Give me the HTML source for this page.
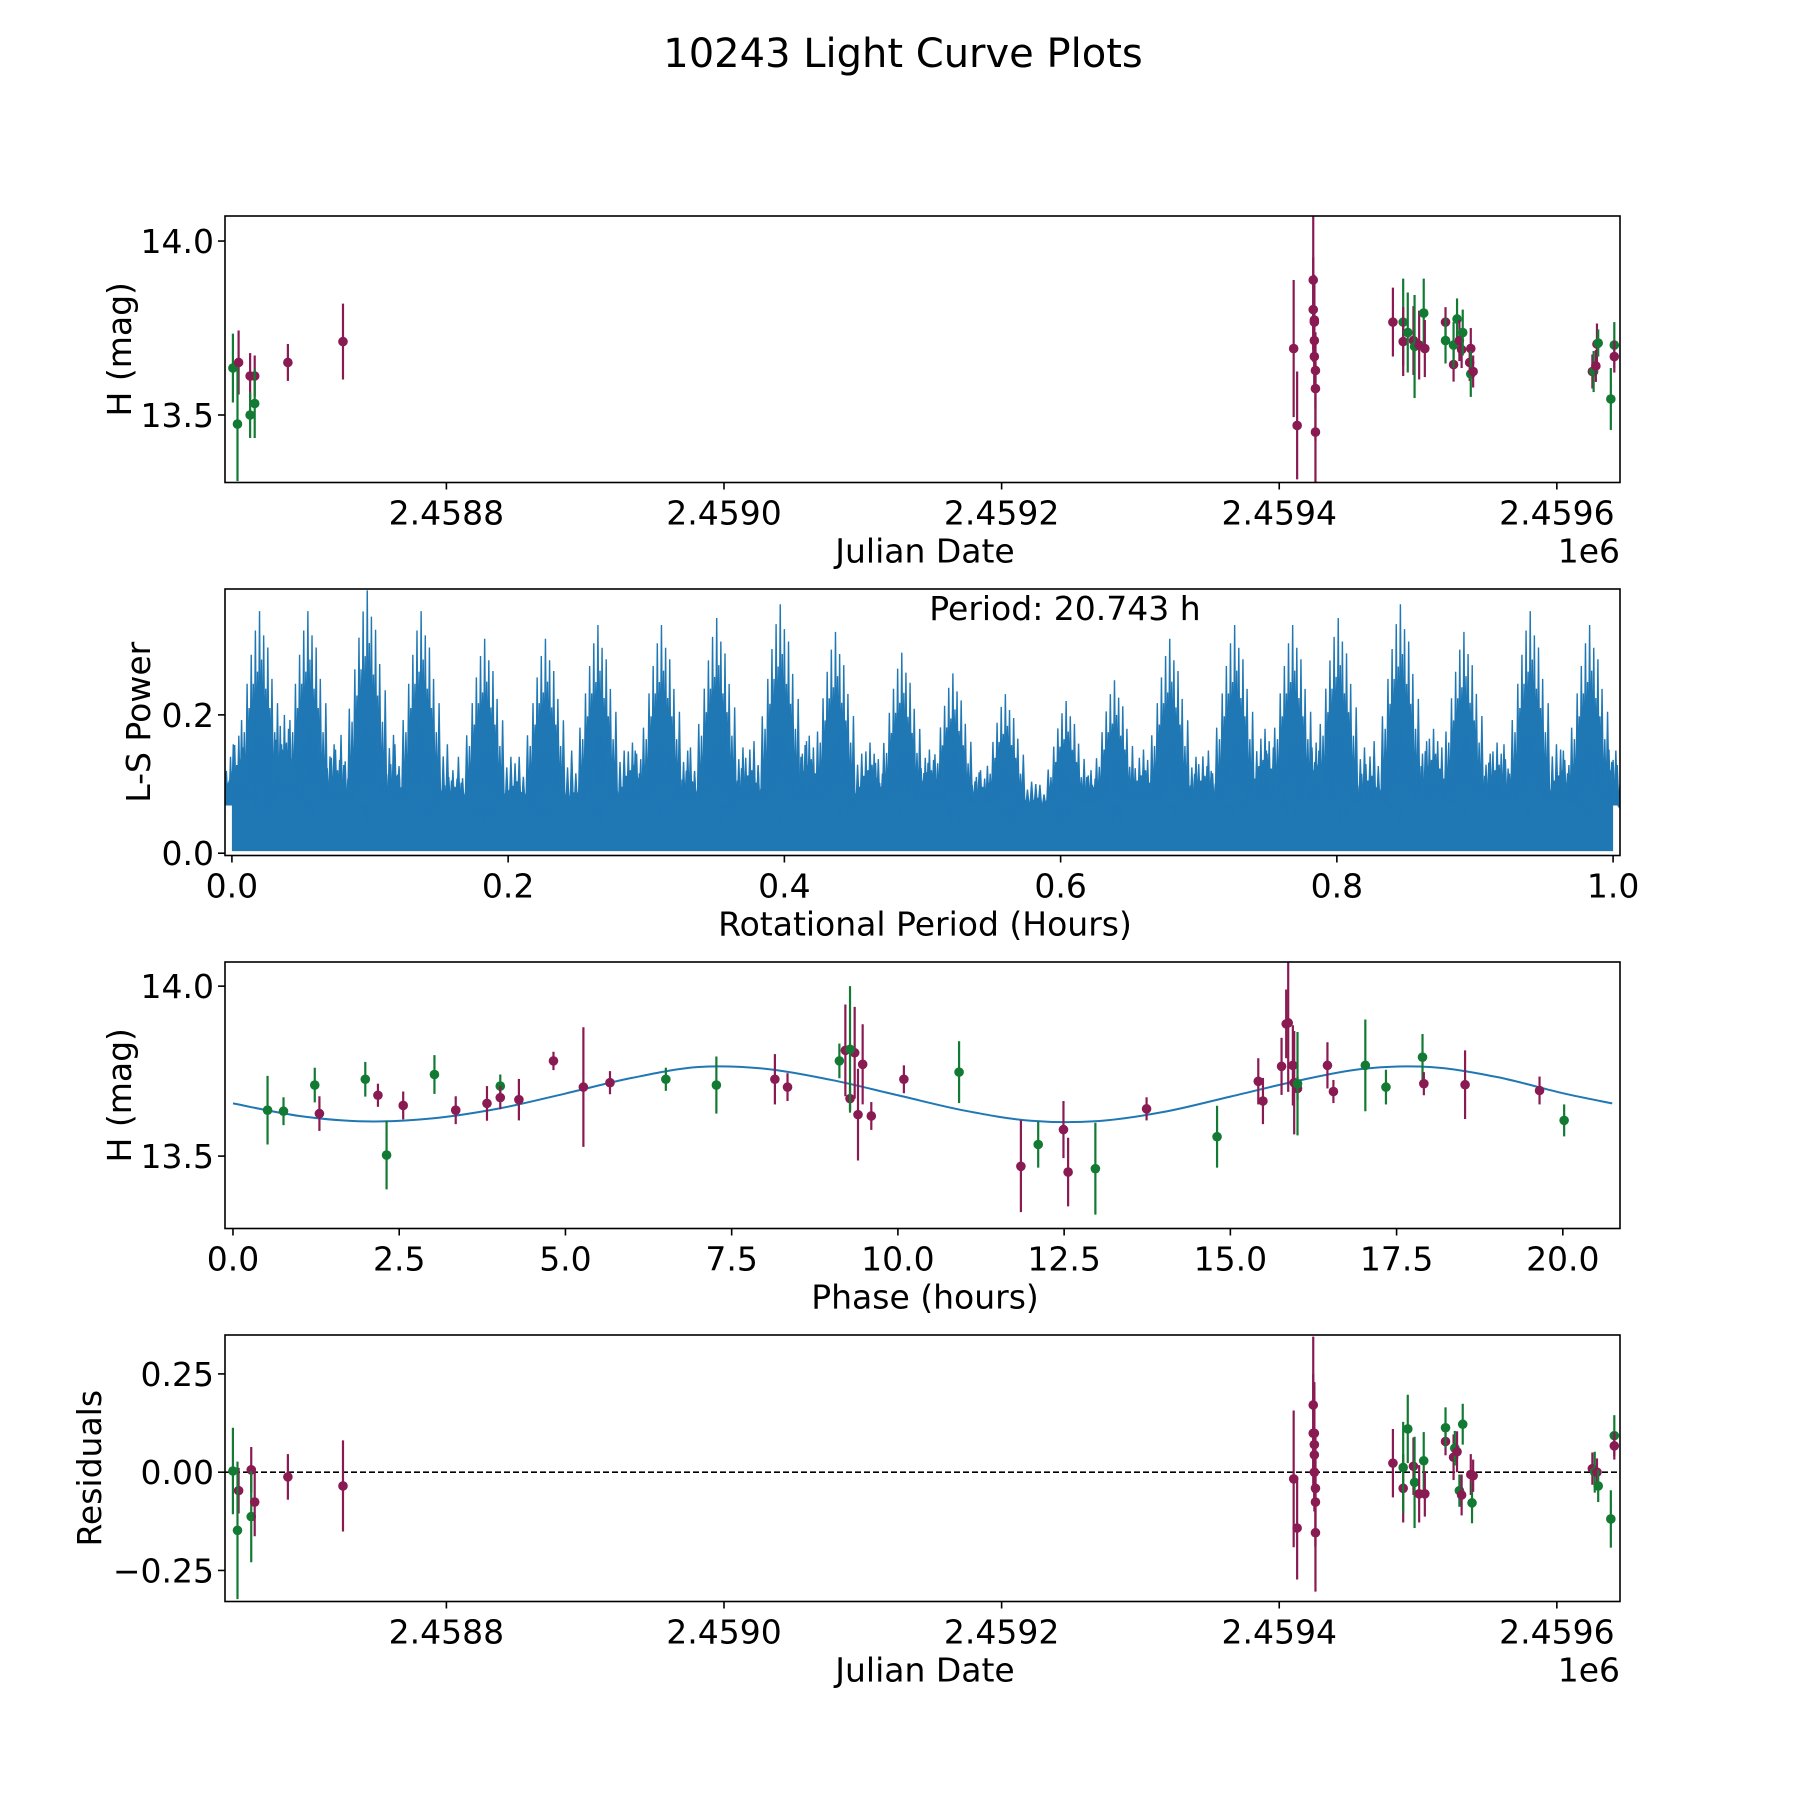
<!DOCTYPE html>
<html><head><meta charset="utf-8"><style>
body{margin:0;background:#fff}
svg{display:block;font-family:"DejaVu Sans","Liberation Sans",sans-serif}
</style></head><body>
<svg id="fig" width="1800" height="1800" viewBox="0 0 1800 1800" xmlns="http://www.w3.org/2000/svg">
<rect width="1800" height="1800" fill="#fff"/>
<text x="903" y="67" font-size="40" text-anchor="middle">10243 Light Curve Plots</text>
</svg>
<script>
// ---- Panel 1: raw light curve
const lcJD = [2458646.2,2458650.3,2458649.5,2458658.6,2458658.6,2458661.9,2458661.9,2458685.8,2458725.5,2459410.4,2459412.9,2459424.5,2459424.5,2459425.3,2459425.3,2459425.3,2459425.3,2459426.1,2459426.1,2459426.1,2459481.9,2459489.3,2459489.3,2459492.6,2459496.7,2459497.5,2459500.8,2459504.1,2459504.9,2459519.8,2459519.8,2459525.6,2459525.6,2459528.1,2459529.8,2459531.4,2459532.2,2459538.0,2459537.2,2459538.0,2459539.7,2459625.6,2459626.5,2459628.1,2459628.9,2459629.8,2459638.9,2459641.4,2459641.4];
const lcMag = [13.635,13.651,13.474,13.612,13.500,13.612,13.533,13.651,13.711,13.691,13.470,13.888,13.803,13.773,13.714,13.767,13.668,13.628,13.576,13.451,13.767,13.767,13.711,13.737,13.714,13.697,13.701,13.793,13.691,13.767,13.714,13.645,13.701,13.776,13.714,13.688,13.737,13.691,13.651,13.618,13.625,13.625,13.625,13.641,13.704,13.707,13.546,13.701,13.668];
const lcErr = [0.099,0.092,0.164,0.066,0.066,0.059,0.099,0.053,0.109,0.197,0.155,0.2,0.15,0.13,0.15,0.12,0.1,0.11,0.15,0.2,0.099,0.125,0.099,0.115,0.099,0.148,0.099,0.099,0.082,0.043,0.066,0.049,0.066,0.059,0.059,0.053,0.066,0.059,0.053,0.066,0.046,0.049,0.059,0.046,0.059,0.039,0.089,0.066,0.046];
const lcBand = ["g","p","g","p","g","p","g","p","p","p","p","p","p","p","p","p","p","p","p","p","p","g","p","g","p","g","p","g","p","p","g","p","g","g","p","p","g","p","p","g","p","p","g","p","p","g","g","g","p"];
// ---- Panel 2: periodogram cluster centres and peak powers
const lsCenter = [0.02,0.055,0.098,0.137,0.183,0.227,0.265,0.311,0.351,0.397,0.437,0.485,0.522,0.56,0.604,0.639,0.679,0.726,0.768,0.801,0.846,0.892,0.94,0.983];
const lsPeak = [0.35,0.35,0.38,0.35,0.31,0.31,0.33,0.33,0.34,0.36,0.32,0.29,0.26,0.23,0.22,0.25,0.31,0.33,0.33,0.34,0.36,0.32,0.35,0.33];
const lsMidX = [0.005,0.038,0.075,0.118,0.16,0.205,0.246,0.29,0.332,0.375,0.418,0.462,0.505,0.542,0.582,0.622,0.66,0.703,0.748,0.785,0.824,0.87,0.916,0.962,0.997];
const lsMidPeak = [0.17,0.2,0.15,0.14,0.12,0.13,0.11,0.16,0.13,0.15,0.17,0.16,0.15,0.12,0.1,0.12,0.15,0.14,0.18,0.16,0.14,0.18,0.16,0.15,0.15];
const lsFloor = 0.07;
// ---- Panel 3: phased light curve
const phX = [0.52,0.76,1.23,1.30,1.99,2.18,2.31,2.56,3.03,3.35,3.82,4.02,4.02,4.30,4.82,5.27,5.67,6.51,7.27,8.15,8.34,9.12,9.21,9.28,9.35,9.28,9.40,9.47,9.60,10.09,10.92,11.85,12.11,12.49,12.56,12.97,13.74,14.80,15.42,15.49,15.77,15.84,15.87,15.94,15.96,16.01,16.01,16.46,16.55,17.03,17.34,17.89,17.91,18.53,19.65,20.02];
const phMag = [13.635,13.632,13.709,13.625,13.726,13.679,13.503,13.649,13.740,13.635,13.655,13.706,13.672,13.666,13.780,13.703,13.716,13.726,13.709,13.726,13.703,13.780,13.811,13.669,13.804,13.814,13.622,13.770,13.618,13.726,13.747,13.470,13.534,13.578,13.453,13.463,13.639,13.557,13.720,13.662,13.764,13.889,13.892,13.767,13.716,13.699,13.713,13.767,13.690,13.767,13.703,13.791,13.713,13.710,13.693,13.605];
const phErr = [0.101,0.041,0.051,0.051,0.051,0.034,0.101,0.041,0.057,0.041,0.051,0.034,0.034,0.061,0.027,0.176,0.034,0.034,0.084,0.074,0.041,0.051,0.135,0.034,0.135,0.186,0.135,0.118,0.041,0.041,0.091,0.135,0.068,0.084,0.101,0.135,0.034,0.091,0.068,0.068,0.084,0.101,0.203,0.118,0.152,0.034,0.152,0.068,0.034,0.135,0.051,0.068,0.034,0.101,0.041,0.047];
const phBand = ["g","g","g","p","g","p","g","p","g","p","p","g","p","p","p","p","p","g","g","p","p","g","p","p","p","g","p","p","p","p","g","p","g","p","p","g","p","g","p","p","p","p","p","p","p","p","g","p","p","g","g","g","p","p","p","g"];
const fitX = [0,1,2,3,4,5,6,7,8,9,10,11,12,13,14,15,16,17,18,19,20,20.743];
const fitY = [13.655,13.618,13.602,13.611,13.640,13.684,13.730,13.762,13.757,13.724,13.679,13.634,13.604,13.603,13.630,13.675,13.721,13.757,13.762,13.733,13.685,13.655];
// ---- Panel 4: residuals
const rsJD = [2458646.2,2458650.3,2458649.5,2458659.4,2458659.4,2458661.9,2458685.8,2458725.5,2459410.4,2459412.9,2459424.5,2459424.5,2459425.3,2459425.3,2459425.3,2459425.3,2459426.1,2459426.1,2459426.1,2459481.9,2459489.3,2459489.3,2459492.6,2459496.7,2459497.5,2459500.8,2459504.1,2459504.9,2459519.8,2459519.8,2459525.6,2459526.5,2459528.1,2459529.8,2459531.4,2459532.2,2459538.0,2459538.9,2459539.7,2459625.6,2459627.3,2459628.9,2459629.8,2459638.9,2459641.4,2459641.4];
const rsVal = [0.003,-0.047,-0.148,0.006,-0.113,-0.076,-0.012,-0.035,-0.017,-0.142,0.171,0.099,0.099,0.070,0.044,0,-0.041,-0.076,-0.154,0.023,-0.041,0.012,0.110,0.015,-0.026,-0.055,0.029,-0.055,0.078,0.113,0.038,0.061,0.052,-0.047,-0.058,0.122,-0.006,-0.078,-0.009,0.009,0,0,-0.035,-0.119,0.093,0.067];
const rsErr = [0.11,0.058,0.175,0.058,0.116,0.087,0.058,0.116,0.174,0.131,0.174,0.15,0.13,0.15,0.12,0.1,0.15,0.11,0.15,0.087,0.087,0.116,0.087,0.073,0.116,0.073,0.073,0.058,0.035,0.052,0.058,0.044,0.052,0.041,0.052,0.052,0.052,0.052,0.041,0.041,0.052,0.035,0.041,0.073,0.052,0.035];
const rsBand = ["g","p","g","p","g","p","p","p","p","p","p","p","p","p","p","p","p","p","p","p","p","g","g","p","g","p","g","p","p","g","p","g","p","g","p","g","p","g","p","p","g","p","g","g","g","p"];

const NS="http://www.w3.org/2000/svg";
const svg=document.getElementById('fig');
const COL={p:"#8a1a52",g:"#127a33"};
function mk(tag,attrs,parent){const e=document.createElementNS(NS,tag);for(const k in attrs)e.setAttribute(k,attrs[k]);(parent||svg).appendChild(e);return e;}
const L=225,R=1620,H=266.5;
const TOPS=[216,589,962,1335];
const FS=33;
function lin(d0,d1,p0,p1){return v=>p0+(v-d0)/(d1-d0)*(p1-p0);}
function frame(top,name){
  const g=mk('g',{});
  
  
  return g;
}
function border(g,top){
  const r=mk('rect',{x:L,y:top,width:R-L,height:H,fill:'none',stroke:'#000','stroke-width':1.6},g);
  
  
}
function xticks(g,top,ticks,labels,sx,name){
  ticks.forEach((t,i)=>{
    const x=sx(t);
    mk('line',{x1:x,x2:x,y1:top+H,y2:top+H+7,stroke:'#000','stroke-width':1.6},g);
    const tx=mk('text',{x:x,y:top+H+42,'font-size':FS,'text-anchor':'middle'},g);
    tx.textContent=labels[i];
    
    
  });
}
function yticks(g,top,ticks,labels,sy,name){
  ticks.forEach((t,i)=>{
    const y=sy(t);
    mk('line',{x1:L-7,x2:L,y1:y,y2:y,stroke:'#000','stroke-width':1.6},g);
    const tx=mk('text',{x:L-11,y:y+12,'font-size':FS,'text-anchor':'end'},g);
    tx.textContent=labels[i];
    
    
  });
}
function label(g,x,y,txt,rot,name){
  const t=mk('text',{x:x,y:y,'font-size':FS,'text-anchor':'middle',transform:rot?`rotate(-90 ${x} ${y})`:''},g);
  t.textContent=txt;
  
  
}
function clip(id,top){const cp=mk('clipPath',{id:id});mk('rect',{x:L,y:top,width:R-L,height:H},cp);}
function errpts(g,xs,ys,es,bs,sx,sy,name){
  xs.forEach((xv,i)=>{
    const x=sx(xv),c=COL[bs[i]];
    const ln=mk('line',{x1:x,x2:x,y1:sy(ys[i]-es[i]),y2:sy(ys[i]+es[i]),stroke:c,'stroke-width':2.2},g);
    
    
    const p=mk('circle',{cx:x,cy:sy(ys[i]),r:4.8,fill:c},g);
    
    
  });
}
const jdTicks=[2458800,2459000,2459200,2459400,2459600];
const jdLabels=["2.4588","2.4590","2.4592","2.4594","2.4596"];
const sJD=lin(2458640.5,2459645.5,L,R);

// Panel 1
{
  const top=TOPS[0];const g=frame(top,'raw-light-curve-panel');
  clip('c1',top);
  const sy=lin(14.072,13.306,top,top+H);
  const d=mk('g',{'clip-path':'url(#c1)'},g);
  errpts(d,lcJD,lcMag,lcErr,lcBand,sJD,sy,'raw');
  border(g,top);
  xticks(g,top,jdTicks,jdLabels,sJD,'x');
  yticks(g,top,[13.5,14.0],["13.5","14.0"],sy,'y');
  label(g,925,top+H+80,'Julian Date',false,'x-axis-title');
  label(g,131,top+H/2,'H (mag)',true,'y-axis-title');
  const e=mk('text',{x:R,y:top+H+80,'font-size':FS,'text-anchor':'end'},g);e.textContent='1e6';
  
  
}
// Panel 2
{
  const top=TOPS[1];const g=frame(top,'periodogram-panel');
  clip('c2',top);
  const sx=lin(-0.005,1.005,L,R),sy=lin(0.382,-0.0033,top,top+H);
  const d=mk('g',{'clip-path':'url(#c2)'},g);
  const fl=mk('rect',{x:sx(0),y:sy(lsFloor),width:sx(1)-sx(0),height:sy(0.003)-sy(lsFloor),fill:'#1f77b4'},d);
  
  
  const offs=[-0.022,-0.019,-0.016,-0.013,-0.011,-0.009,-0.0075,-0.006,-0.0045,-0.003,-0.0015,0,0.0015,0.003,0.0045,0.006,0.0075,0.009,0.011,0.013,0.016,0.019,0.022];
  const rel=[0.3,0.45,0.35,0.55,0.5,0.7,0.6,0.82,0.7,0.92,0.75,1,0.8,0.9,0.68,0.85,0.6,0.72,0.5,0.62,0.4,0.45,0.3];
  function spikes(centers,peaks,name){
    centers.forEach((c,i)=>{
      let pts=[];
      offs.forEach((o,j)=>{const x=sx(c+o);pts.push(`${x-1.5},${sy(lsFloor)} ${x},${sy(peaks[i]*rel[j])} ${x+1.5},${sy(lsFloor)}`);});
      const body=mk('polygon',{points:`${sx(c-0.017)},${sy(lsFloor)} ${sx(c-0.008)},${sy(peaks[i]*0.42)} ${sx(c)},${sy(peaks[i]*0.58)} ${sx(c+0.008)},${sy(peaks[i]*0.42)} ${sx(c+0.017)},${sy(lsFloor)}`,fill:'#1f77b4'},d);
      
      
      const sp=mk('polygon',{points:pts.join(' '),fill:'#1f77b4',stroke:'#1f77b4','stroke-width':1.4},d);
      
      
    });
  }
  spikes(lsCenter,lsPeak,'power-cluster');
  spikes(lsMidX,lsMidPeak,'power-minor-cluster');
  border(g,top);
  xticks(g,top,[0,0.2,0.4,0.6,0.8,1.0],["0.0","0.2","0.4","0.6","0.8","1.0"],sx,'x');
  yticks(g,top,[0,0.2],["0.0","0.2"],sy,'y');
  label(g,925,top+H+80,'Rotational Period (Hours)',false,'x-axis-title');
  label(g,150,top+H/2,'L-S Power',true,'y-axis-title');
  const pt=mk('text',{x:1065,y:top+31,'font-size':FS,'text-anchor':'middle'},g);pt.textContent='Period: 20.743 h';
  
  
}
// Panel 3
{
  const top=TOPS[2];const g=frame(top,'phased-light-curve-panel');
  clip('c3',top);
  const sx=lin(-0.12,20.86,L,R),sy=lin(14.071,13.287,top,top+H);
  const d=mk('g',{'clip-path':'url(#c3)'},g);
  const P=fitX.map((x,i)=>[sx(x),sy(fitY[i])]);
  let path='M'+P[0][0]+','+P[0][1];
  for(let i=0;i<P.length-1;i++){
    const p0=P[Math.max(0,i-1)],p1=P[i],p2=P[i+1],p3=P[Math.min(P.length-1,i+2)];
    const c1=[p1[0]+(p2[0]-p0[0])/6,p1[1]+(p2[1]-p0[1])/6],c2=[p2[0]-(p3[0]-p1[0])/6,p2[1]-(p3[1]-p1[1])/6];
    path+=` C${c1[0]},${c1[1]} ${c2[0]},${c2[1]} ${p2[0]},${p2[1]}`;
  }
  const f=mk('path',{d:path,fill:'none',stroke:'#1f77b4','stroke-width':2},d);
  
  
  errpts(d,phX,phMag,phErr,phBand,sx,sy,'phased');
  border(g,top);
  xticks(g,top,[0,2.5,5,7.5,10,12.5,15,17.5,20],["0.0","2.5","5.0","7.5","10.0","12.5","15.0","17.5","20.0"],sx,'x');
  yticks(g,top,[13.5,14.0],["13.5","14.0"],sy,'y');
  label(g,925,top+H+80,'Phase (hours)',false,'x-axis-title');
  label(g,131,top+H/2,'H (mag)',true,'y-axis-title');
}
// Panel 4
{
  const top=TOPS[3];const g=frame(top,'residuals-panel');
  clip('c4',top);
  const sy=lin(0.349,-0.329,top,top+H);
  const d=mk('g',{'clip-path':'url(#c4)'},g);
  const z=mk('line',{x1:L,x2:R,y1:sy(0),y2:sy(0),stroke:'#000','stroke-width':1.6,'stroke-dasharray':'6,3'},d);
  
  
  errpts(d,rsJD,rsVal,rsErr,rsBand,sJD,sy,'residual');
  border(g,top);
  xticks(g,top,jdTicks,jdLabels,sJD,'x');
  yticks(g,top,[-0.25,0,0.25],["\u22120.25","0.00","0.25"],sy,'y');
  label(g,925,top+H+80,'Julian Date',false,'x-axis-title');
  label(g,101,top+H/2,'Residuals',true,'y-axis-title');
  const e=mk('text',{x:R,y:top+H+80,'font-size':FS,'text-anchor':'end'},g);e.textContent='1e6';
  
  
}
</script>
</body></html>
